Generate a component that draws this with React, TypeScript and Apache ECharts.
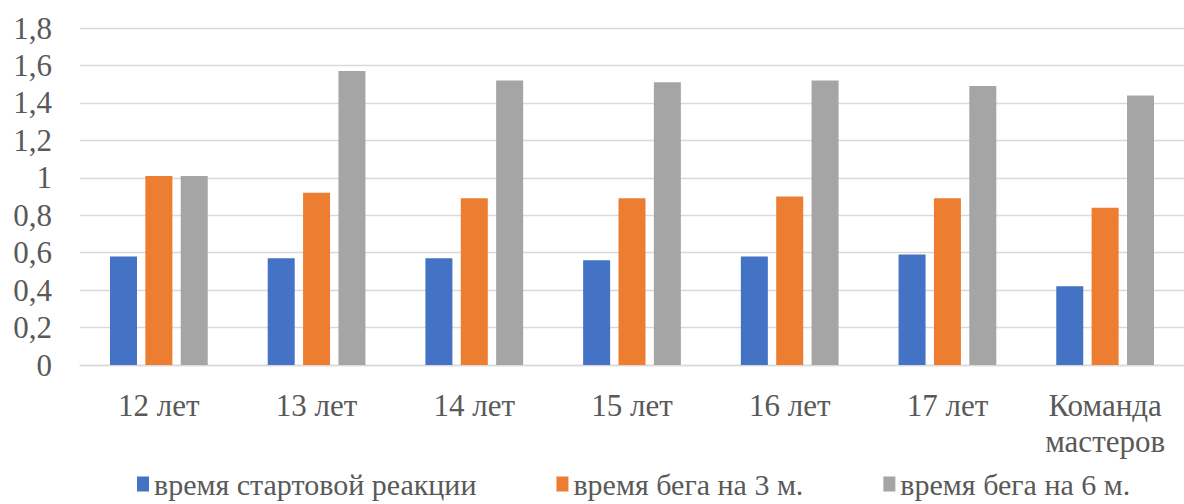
import React, { useEffect, useRef } from "react";
import * as echarts from "echarts";

const categories = ["12 лет", "13 лет", "14 лет", "15 лет", "16 лет", "17 лет", "Команда мастеров"];
const startReaction = [0.58, 0.57, 0.57, 0.56, 0.58, 0.59, 0.42];
const run3m = [1.01, 0.92, 0.89, 0.89, 0.9, 0.89, 0.84];
const run6m = [1.01, 1.57, 1.52, 1.51, 1.52, 1.49, 1.44];
const seriesNames = ["время стартовой реакции", "время бега на 3 м.", "время бега на 6 м."];
const colors = ["#4472C4", "#ED7D31", "#A5A5A5"];

const FONT = "Liberation Serif";
const CSS = `#chart text, #chart tspan { font-family: "Liberation Serif", serif !important; }`;

export default function App() {
  const ref = useRef<HTMLDivElement>(null);
  useEffect(() => {
    if (!ref.current) return;
    const chart = echarts.init(ref.current, null, { renderer: "svg" });
    const values = [startReaction, run3m, run6m];
    chart.setOption({
      animation: false,
      color: colors,
      textStyle: { fontFamily: FONT },
      grid: { left: 80, right: 0, top: 28, bottom: 139, containLabel: false, outerBoundsMode: "none" },
      legend: {
        top: 464,
        left: 132,
        itemWidth: 12,
        itemHeight: 15,
        itemGap: 80,
        icon: "rect",
        textStyle: { fontFamily: FONT, fontSize: 30, color: "#595959" },
        data: seriesNames,
      },
      xAxis: {
        type: "category",
        data: categories,
        axisLine: { show: true, lineStyle: { color: "#d9d9d9", width: 1.3 } },
        axisTick: { show: false },
        axisLabel: {
          fontFamily: FONT,
          fontSize: 31,
          color: "#595959",
          margin: 22,
          lineHeight: 36,
          interval: 0,
          hideOverlap: false,
          formatter: (v: string) => (v.length > 8 ? v.replace(" ", "\n") : v),
        },
      },
      yAxis: {
        type: "value",
        min: 0,
        max: 1.8,
        interval: 0.2,
        axisLine: { show: false },
        axisTick: { show: false },
        splitLine: { lineStyle: { color: "#d9d9d9", width: 1.3 } },
        axisLabel: {
          fontFamily: FONT,
          fontSize: 31,
          color: "#595959",
          margin: 28,
          formatter: (v: number) => String(Math.round(v * 10) / 10).replace(".", ","),
        },
      },
      series: seriesNames.map((name, i) => ({
        name,
        type: "bar",
        data: values[i],
        barWidth: 27,
        barGap: "31%",
      })),
    });
    return () => chart.dispose();
  }, []);
  return (
    <>
      <style>{CSS}</style>
      <div id="chart" ref={ref} style={{ width: 1184, height: 504, position: "absolute", left: 0, top: 0 }} />
    </>
  );
}
